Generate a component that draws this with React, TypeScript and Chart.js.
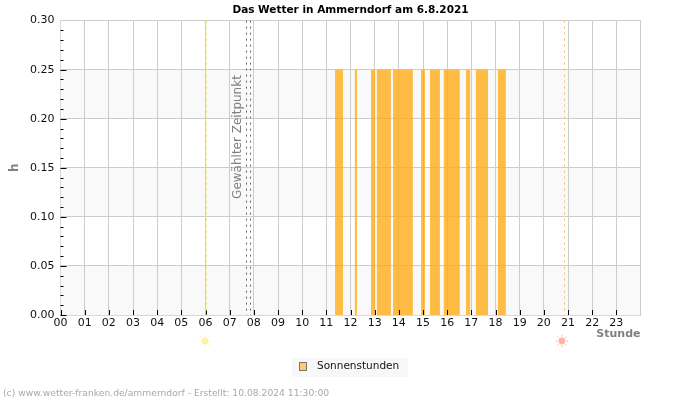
import React, { useEffect, useRef } from "react";
import { Chart, registerables } from "chart.js";

Chart.register(...registerables);

// Sunshine periods of the day, in decimal hours
const sunStarts = [11.36, 12.18, 12.85, 13.09, 13.76, 14.92, 15.29, 15.86, 16.78, 17.19, 18.10];
const sunEnds = [11.69, 12.27, 13.02, 13.67, 14.58, 15.08, 15.70, 16.52, 16.95, 17.69, 18.43];
const sunValue = 0.25;
const hourLabels = ["00","01","02","03","04","05","06","07","08","09","10","11","12","13","14","15","16","17","18","19","20","21","22","23"];
const sunriseHour = 6.02;
const sunsetHour = 20.83;
const selectedHours = [7.68, 7.85];
const bandEdges = [[0.2, 0.25], [0.1, 0.15], [0, 0.05]];

const FONT = "'DejaVu Sans'";

function sunPoints() {
  const pts: { x: number; y: number }[] = [];
  sunStarts.forEach((s, i) => {
    pts.push({ x: s, y: 0 }, { x: s, y: sunValue }, { x: sunEnds[i], y: sunValue }, { x: sunEnds[i], y: 0 });
  });
  return pts;
}

function drawSun(ctx: CanvasRenderingContext2D, x: number, y: number, color: string) {
  ctx.save();
  ctx.fillStyle = color;
  ctx.strokeStyle = color;
  ctx.beginPath();
  ctx.arc(x, y, 3.4, 0, Math.PI * 2);
  ctx.fill();
  ctx.lineWidth = 1;
  for (let i = 0; i < 8; i++) {
    const a = (i * Math.PI) / 4;
    ctx.beginPath();
    ctx.moveTo(x + Math.cos(a) * 4.4, y + Math.sin(a) * 4.4);
    ctx.lineTo(x + Math.cos(a) * 6.2, y + Math.sin(a) * 6.2);
    ctx.stroke();
  }
  ctx.restore();
}

const decorations = {
  id: "decorations",
  beforeDraw(chart: any) {
    const { ctx, chartArea: a, scales } = chart;
    ctx.save();
    ctx.fillStyle = "#f9f9f9";
    bandEdges.forEach(([lo, hi]) => {
      const top = scales.y.getPixelForValue(hi);
      ctx.fillRect(a.left, top, a.right - a.left, scales.y.getPixelForValue(lo) - top);
    });
    ctx.restore();
  },
  afterDraw(chart: any) {
    const { ctx, chartArea: a, scales } = chart;
    const { x, y } = scales;
    ctx.save();
    // Tick marks inside the plot frame
    ctx.strokeStyle = "#000";
    ctx.lineWidth = 1;
    for (let h = 0; h < 24; h++) {
      const px = Math.round(x.getPixelForValue(h)) + 0.5;
      ctx.beginPath();
      ctx.moveTo(px, a.bottom - 5);
      ctx.lineTo(px, a.bottom);
      ctx.stroke();
    }
    for (let i = 0; i < 30; i++) {
      const py = Math.round(y.getPixelForValue(i / 100)) + 0.5;
      ctx.beginPath();
      ctx.moveTo(a.left, py);
      ctx.lineTo(a.left + (i % 5 === 0 ? 6 : 3), py);
      ctx.stroke();
    }
    // Sunrise, sunset and selected time markers
    const vline = (h: number, color: string, dash: number[]) => {
      const px = Math.round(x.getPixelForValue(h)) + 0.5;
      ctx.strokeStyle = color;
      ctx.setLineDash(dash);
      ctx.beginPath();
      ctx.moveTo(px, a.top);
      ctx.lineTo(px, a.bottom);
      ctx.stroke();
    };
    vline(sunriseHour, "#f6ea4a", [2, 4]);
    vline(sunsetHour, "#fdbb55", [2, 4]);
    selectedHours.forEach((h) => vline(h, "#666", [2, 4]));
    ctx.setLineDash([]);

    drawSun(ctx, x.getPixelForValue(sunriseHour) - 1, 341, "#fff0a8");
    drawSun(ctx, x.getPixelForValue(sunsetHour) - 2, 341, "#ffb3a0");

    // Rotated marker caption
    ctx.save();
    ctx.translate(238, 137);
    ctx.rotate(-Math.PI / 2);
    ctx.font = `12px ${FONT}`;
    ctx.fillStyle = "#808080";
    ctx.textAlign = "center";
    ctx.textBaseline = "middle";
    ctx.fillText("Gewählter Zeitpunkt", 0, 0);
    ctx.restore();

    // Legend panel, swatch and series name
    ctx.fillStyle = "#f8f8f8";
    ctx.fillRect(292, 358, 116, 19);
    ctx.fillStyle = "#ffcc66";
    ctx.fillRect(299.5, 362.5, 7, 8);
    ctx.strokeStyle = "#777";
    ctx.lineWidth = 1;
    ctx.strokeRect(299.5, 362.5, 7, 8);
    ctx.font = `10.5px ${FONT}`;
    ctx.fillStyle = "#111";
    ctx.textAlign = "left";
    ctx.textBaseline = "middle";
    ctx.fillText(chart.data.datasets[0].label, 317, 366.5);

    // Footer credit
    ctx.font = `9.2px ${FONT}`;
    ctx.fillStyle = "#a8a8a8";
    ctx.fillText("(c) www.wetter-franken.de/ammerndorf - Erstellt: 10.08.2024 11:30:00", 3, 393.5);
    ctx.restore();
  },
};

export default function App() {
  const ref = useRef<HTMLCanvasElement>(null);
  useEffect(() => {
    const chart = new Chart(ref.current!, {
      type: "line",
      data: {
        datasets: [
          {
            label: "Sonnenstunden",
            data: sunPoints(),
            parsing: false,
            borderWidth: 0,
            pointRadius: 0,
            tension: 0,
            fill: "origin",
            backgroundColor: "rgba(255,170,17,0.78)",
          } as any,
        ],
      },
      options: {
        responsive: false,
        animation: false,
        layout: { padding: { left: 0, right: 59.5, top: 0, bottom: 42 } },
        scales: {
          x: {
            type: "linear",
            min: 0,
            max: 24,
            afterFit: (s: any) => { s.height = 43; },
            grid: { color: "#cccccc", drawTicks: false },
            border: { color: "#d8d8d8" },
            ticks: {
              stepSize: 1,
              padding: 2,
              maxRotation: 0,
              autoSkip: false,
              color: "#111",
              font: { family: FONT, size: 11 },
              callback: (v: any) => hourLabels[v] ?? "",
            },
            title: {
              display: true,
              text: "Stunde",
              align: "end",
              color: "#808080",
              font: { family: FONT, size: 11, weight: "bold" },
              padding: { top: 0, bottom: 17 },
            },
          },
          y: {
            min: 0,
            max: 0.3,
            afterFit: (s: any) => { s.width = 60.5; },
            grid: { color: "#cccccc", drawTicks: false },
            border: { color: "#d8d8d8" },
            ticks: {
              stepSize: 0.05,
              padding: 6,
              color: "#111",
              font: { family: FONT, size: 11 },
              callback: (v: any) => Number(v).toFixed(2),
            },
            title: {
              display: true,
              text: "h",
              color: "#808080",
              font: { family: FONT, size: 12, weight: "bold" },
              padding: { top: 8, bottom: 0 },
            },
          },
        },
        plugins: {
          title: {
            display: true,
            fullSize: false,
            text: "Das Wetter in Ammerndorf am 6.8.2021",
            color: "#000",
            font: { family: FONT, size: 10.5, weight: "bold" },
            padding: { top: 4, bottom: 4 },
          },
          legend: { display: false },
          tooltip: { enabled: false },
        },
      },
      plugins: [decorations],
    } as any);
    return () => chart.destroy();
  }, []);
  return (
    <div style={{ position: "absolute", left: 0, top: 0, width: 700, height: 400, background: "#fff" }}>
      <canvas ref={ref} width={700} height={400} style={{ display: "block" }} />
    </div>
  );
}
